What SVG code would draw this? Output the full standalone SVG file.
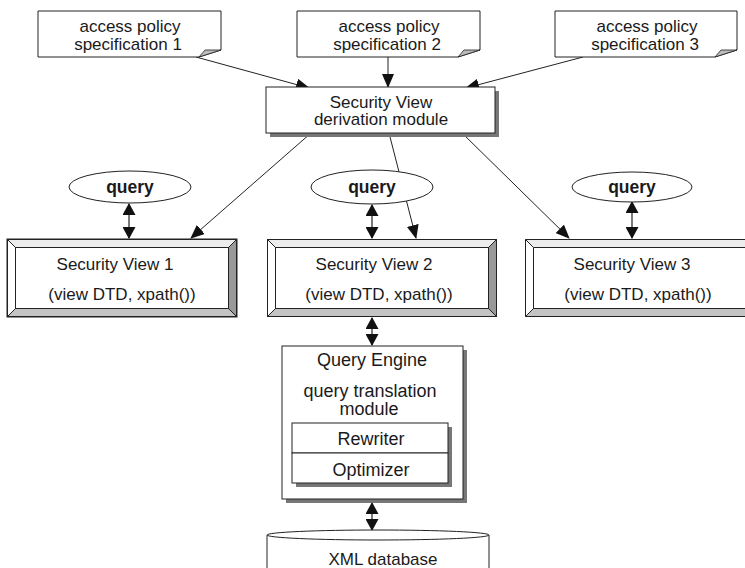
<svg xmlns="http://www.w3.org/2000/svg" width="745" height="568" viewBox="0 0 745 568">
  <defs>
    <marker id="ah" markerUnits="userSpaceOnUse" markerWidth="14" markerHeight="12" viewBox="0 0 14 12" refX="13" refY="6" orient="auto">
      <path d="M0,0 L14,6 L0,12 Z" fill="#111"/>
    </marker>
    <marker id="dh" markerUnits="userSpaceOnUse" markerWidth="12" markerHeight="13" viewBox="0 0 12 13" refX="11" refY="6.5" orient="auto-start-reverse">
      <path d="M0,0 L12,6.5 L0,13 Z" fill="#111"/>
    </marker>
  </defs>
  <style>
    .t { font-family: "Liberation Sans", Arial, sans-serif; font-size: 17px; fill: #1a1a1a; text-anchor: middle; }
    .q { font-size: 18px; }
    .b { font-weight: bold; font-size: 17.5px; }
    .page { fill: #fff; stroke: #222; stroke-width: 1; }
    .fold { fill: #bbb; stroke: #222; stroke-width: 0.8; }
    .box { fill: #fff; stroke: #222; stroke-width: 1; }
    .shadow { fill: #777; }
    .ell { fill: #fff; stroke: #222; stroke-width: 1; }
    .edge { stroke: #222; stroke-width: 1; fill: none; }
    .arr { marker-end: url(#ah); }
    .dbl { stroke-width: 1.2; marker-start: url(#dh); marker-end: url(#dh); }
    .bev-t { fill: #ececec; }
    .bev-l { fill: #fff; }
    .bev-r { fill: #999; }
    .bev-b { fill: #c4c4c4; }
    .ln { stroke: #222; stroke-width: 1; fill: none; }
  </style>

  <!-- connectors -->
  <g id="connectors">
    <line class="edge arr" x1="196" y1="57" x2="309" y2="88"/>
    <line class="edge arr" x1="388" y1="57" x2="388" y2="87"/>
    <line class="edge arr" x1="583" y1="57" x2="466" y2="88"/>
    <line class="edge arr" x1="311" y1="133" x2="191" y2="238"/>
    <line class="edge arr" x1="389" y1="133" x2="416" y2="238"/>
    <line class="edge arr" x1="462" y1="133" x2="569" y2="238"/>
    <line class="edge dbl" x1="129" y1="204" x2="129" y2="238"/>
    <line class="edge dbl" x1="372" y1="205" x2="372" y2="238"/>
    <line class="edge dbl" x1="632" y1="202" x2="632" y2="238"/>
    <line class="edge dbl" x1="372" y1="318" x2="372" y2="345"/>
    <line class="edge dbl" x1="372" y1="503" x2="372" y2="530"/>
  </g>

  <!-- access policy documents -->
  <g id="doc1">
    <path class="page" d="M38,11 H221 V50 L199,57 H38 Z"/>
    <path class="fold" d="M199,57 L205,50 L221,50 Z"/>
    <text class="t" x="130" y="32">access policy</text>
    <text class="t" x="128" y="50">specification 1</text>
  </g>
  <g id="doc2">
    <path class="page" d="M297,11 H480 V50 L458,57 H297 Z"/>
    <path class="fold" d="M458,57 L464,50 L480,50 Z"/>
    <text class="t" x="389" y="32">access policy</text>
    <text class="t" x="387" y="50">specification 2</text>
  </g>
  <g id="doc3">
    <path class="page" d="M555,11 H737 V50 L715,57 H555 Z"/>
    <path class="fold" d="M715,57 L721,50 L737,50 Z"/>
    <text class="t" x="647" y="32">access policy</text>
    <text class="t" x="645" y="50">specification 3</text>
  </g>

  <!-- derivation module -->
  <g id="derivation">
    <rect class="shadow" x="270" y="91" width="229" height="46"/>
    <rect class="box" x="266" y="87" width="229" height="46"/>
    <text class="t" x="381" y="108">Security View</text>
    <text class="t" x="381" y="125">derivation module</text>
  </g>

  <!-- query ellipses -->
  <g id="query1">
    <ellipse class="ell" cx="130" cy="187" rx="61" ry="16"/>
    <text class="t b" x="130" y="193">query</text>
  </g>
  <g id="query2">
    <ellipse class="ell" cx="372" cy="187" rx="61" ry="17"/>
    <text class="t b" x="372" y="193">query</text>
  </g>
  <g id="query3">
    <ellipse class="ell" cx="632" cy="187" rx="60" ry="15"/>
    <text class="t b" x="632" y="193">query</text>
  </g>

  <!-- security views (bevelled frames) -->
  <g id="view1">
    <rect class="box" x="7" y="239" width="230" height="78"/>
    <path class="bev-t" d="M7.5,239.5 H236.5 L228.5,247.5 H15.5 Z"/>
    <path class="bev-l" d="M7.5,239.5 L15.5,247.5 V308.5 L7.5,316.5 Z"/>
    <path class="bev-r" d="M236.5,239.5 V316.5 L228.5,308.5 V247.5 Z"/>
    <path class="bev-b" d="M7.5,316.5 H236.5 L228.5,308.5 H15.5 Z"/>
    <rect class="ln" x="7.5" y="239.5" width="229" height="77"/>
    <rect class="ln" x="15.5" y="247.5" width="213" height="61"/>
    <path class="ln" d="M7.5,239.5 L15.5,247.5 M236.5,239.5 L228.5,247.5 M7.5,316.5 L15.5,308.5 M236.5,316.5 L228.5,308.5"/>
    <text class="t" x="115" y="270">Security View 1</text>
    <text class="t" x="122" y="300">(view DTD, xpath())</text>
  </g>
  <g id="view2">
    <path class="bev-t" d="M267.5,239.5 H496.5 L488.5,247.5 H275.5 Z"/>
    <path class="bev-l" d="M267.5,239.5 L275.5,247.5 V308.5 L267.5,316.5 Z"/>
    <path class="bev-r" d="M496.5,239.5 V316.5 L488.5,308.5 V247.5 Z"/>
    <path class="bev-b" d="M267.5,316.5 H496.5 L488.5,308.5 H275.5 Z"/>
    <rect class="ln" x="267.5" y="239.5" width="229" height="77"/>
    <rect class="ln" x="275.5" y="247.5" width="213" height="61"/>
    <path class="ln" d="M267.5,239.5 L275.5,247.5 M496.5,239.5 L488.5,247.5 M267.5,316.5 L275.5,308.5 M496.5,316.5 L488.5,308.5"/>
    <text class="t" x="374" y="270">Security View 2</text>
    <text class="t" x="379" y="300">(view DTD, xpath())</text>
  </g>
  <g id="view3">
    <path class="bev-t" d="M525.5,239.5 H760 V247.5 H533.5 Z"/>
    <path class="bev-l" d="M525.5,239.5 L533.5,247.5 V308.5 L525.5,316.5 Z"/>
    <path class="bev-b" d="M525.5,316.5 H760 V308.5 H533.5 Z"/>
    <path class="ln" d="M760,239.5 H525.5 V316.5 H760 M760,247.5 H533.5 V308.5 H760"/>
    <path class="ln" d="M525.5,239.5 L533.5,247.5 M525.5,316.5 L533.5,308.5"/>
    <text class="t" x="632" y="270">Security View 3</text>
    <text class="t" x="638" y="300">(view DTD, xpath())</text>
  </g>

  <!-- query engine -->
  <g id="engine">
    <rect class="shadow" x="286" y="350" width="181" height="153"/>
    <rect class="box" x="282" y="346" width="181" height="153"/>
    <text class="t q" x="372" y="366">Query Engine</text>
    <text class="t q" x="370" y="397">query translation</text>
    <text class="t q" x="369" y="415">module</text>
  </g>
  <g id="rewriter">
    <rect class="shadow" x="296" y="427" width="156" height="60"/>
    <rect class="box" x="292" y="423" width="156" height="30"/>
    <text class="t q" x="371" y="445">Rewriter</text>
  </g>
  <g id="optimizer">
    <rect class="box" x="292" y="453" width="156" height="30"/>
    <text class="t q" x="371" y="476">Optimizer</text>
  </g>

  <!-- database -->
  <g id="database">
    <path class="box" d="M267,535 V575 H489 V535"/>
    <ellipse class="ell" cx="378" cy="535" rx="111" ry="5"/>
    <text class="t" x="383" y="565">XML database</text>
  </g>
</svg>
